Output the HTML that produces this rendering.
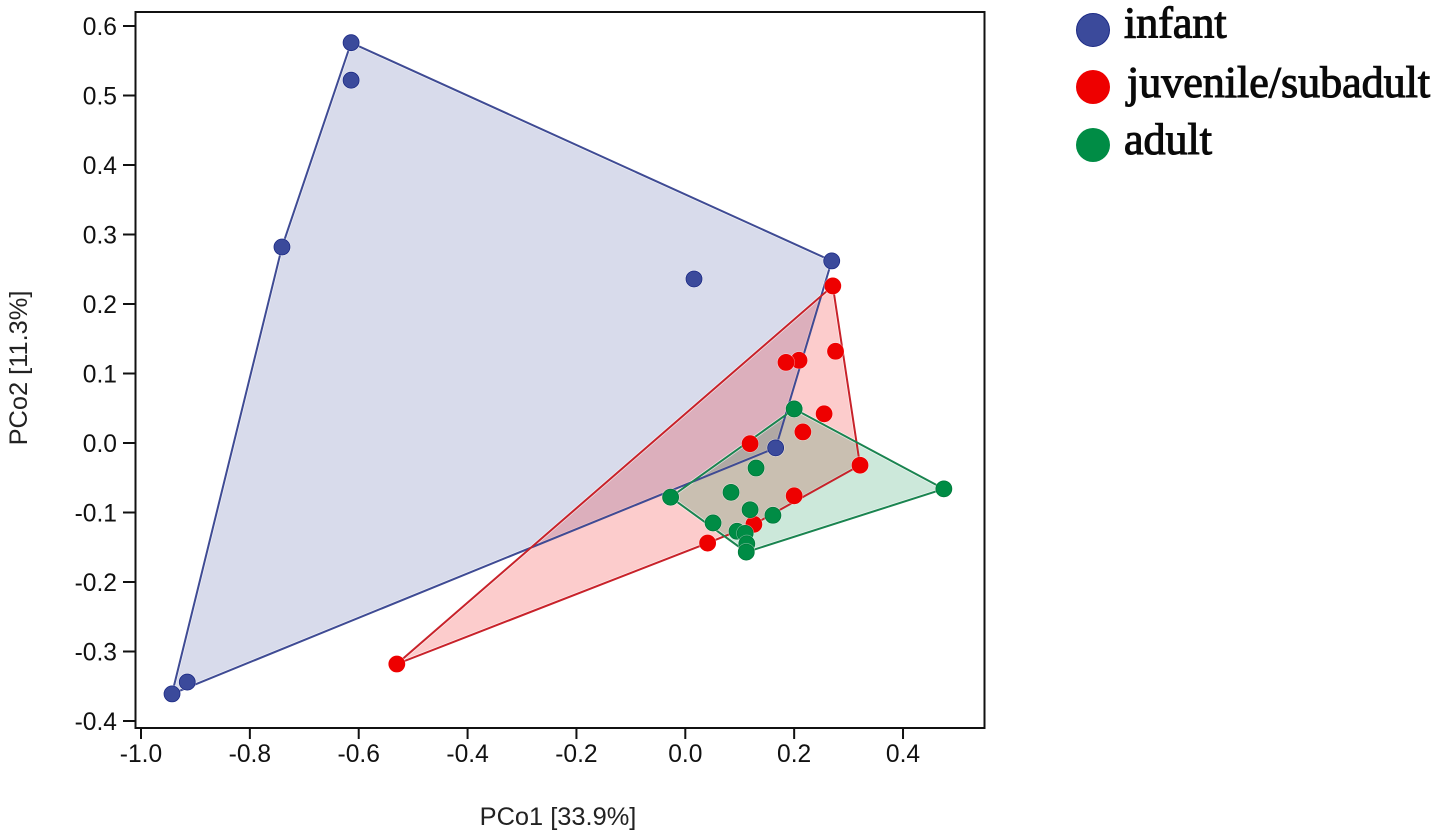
<!DOCTYPE html>
<html lang="en">
<head>
<meta charset="utf-8">
<title>PCoA plot</title>
<style>
html,body{margin:0;padding:0;background:#fff;width:1441px;height:838px;overflow:hidden}
svg{display:block}
.tick{font-family:"Liberation Sans",Arial,sans-serif;font-size:24.6px;fill:#111}
.title{font-family:"Liberation Sans",Arial,sans-serif;font-size:25.4px;fill:#222}
.leg{font-family:"Liberation Serif","Times New Roman",serif;font-size:44px;font-weight:normal;fill:#0a0a0a;stroke:#0a0a0a;stroke-width:1.1px}
</style>
</head>
<body>
<svg id="chart" width="1441" height="838" viewBox="0 0 1441 838" xmlns="http://www.w3.org/2000/svg">
  <g id="hulls"></g>
  <g id="points"></g>
  <rect x="135.5" y="12" width="849" height="716" fill="none" stroke="#111" stroke-width="2"/>
  <g id="xticks"></g>
  <g id="yticks"></g>
  <text class="title" x="558" y="825" text-anchor="middle">PCo1 [33.9%]</text>
  <text class="title" transform="translate(27 368) rotate(-90)" text-anchor="middle">PCo2 [11.3%]</text>
  <g>
    <g>
      <circle cx="1093" cy="30" r="16.5" fill="#3b4a9b" stroke="#1c2a85" stroke-width="1"/>
      <text class="leg" x="1124" y="37.5">infant</text>
    </g>
    <g>
      <circle cx="1093" cy="87" r="17" fill="#ee0000"/>
      <text class="leg" x="1127" y="97">juvenile/subadult</text>
    </g>
    <g>
      <circle cx="1093" cy="145" r="17" fill="#008c45"/>
      <text class="leg" x="1124" y="154">adult</text>
    </g>
  </g>
</svg>
<script>
const xTicks = [-1.0, -0.8, -0.6, -0.4, -0.2, 0.0, 0.2, 0.4];
const yTicks = [-0.4, -0.3, -0.2, -0.1, 0.0, 0.1, 0.2, 0.3, 0.4, 0.5, 0.6];
const infantX = [-0.614, -0.614, -0.741, 0.016, 0.269, 0.166, -0.915, -0.943];
const infantY = [0.576, 0.522, 0.282, 0.236, 0.262, -0.007, -0.344, -0.361];
const juvenileX = [0.271, 0.276, 0.209, 0.185, 0.255, 0.216, 0.119, 0.321, 0.200, 0.126, 0.041, -0.530];
const juvenileY = [0.226, 0.132, 0.119, 0.116, 0.042, 0.016, -0.001, -0.032, -0.076, -0.117, -0.144, -0.318];
const adultX = [0.200, 0.130, 0.084, -0.027, 0.119, 0.161, 0.051, 0.095, 0.110, 0.113, 0.112, 0.475];
const adultY = [0.049, -0.036, -0.071, -0.078, -0.096, -0.104, -0.115, -0.127, -0.130, -0.145, -0.157, -0.066];

const xScale = v => 685.3 + v * 544.3;
const yScale = v => 443 - v * 695;
const SVGNS = 'http://www.w3.org/2000/svg';

function hull(pts) {
  const p = pts.slice().sort((a, b) => a[0] - b[0] || a[1] - b[1]);
  const cross = (o, a, b) => (a[0] - o[0]) * (b[1] - o[1]) - (a[1] - o[1]) * (b[0] - o[0]);
  const lo = [], up = [];
  for (const q of p) {
    while (lo.length > 1 && cross(lo[lo.length - 2], lo[lo.length - 1], q) <= 0) lo.pop();
    lo.push(q);
  }
  for (const q of p.slice().reverse()) {
    while (up.length > 1 && cross(up[up.length - 2], up[up.length - 1], q) <= 0) up.pop();
    up.push(q);
  }
  return lo.slice(0, -1).concat(up.slice(0, -1));
}

function drawHull(name, xs, ys, color) {
  const pts = xs.map((x, i) => [xScale(x), yScale(ys[i])]);
  const h = hull(pts).map(p => p[0].toFixed(1) + ',' + p[1].toFixed(1)).join(' ');
  const halo = document.createElementNS(SVGNS, 'polygon');
  
  
  halo.setAttribute('points', h);
  halo.setAttribute('fill', color);
  halo.setAttribute('fill-opacity', '0.2');
  halo.setAttribute('stroke', '#fff');
  halo.setAttribute('stroke-opacity', '0.6');
  halo.setAttribute('stroke-width', '3.5');
  document.getElementById('hulls').appendChild(halo);
}

function drawHullLine(name, xs, ys, color) {
  const pts = xs.map((x, i) => [xScale(x), yScale(ys[i])]);
  const h = hull(pts).map(p => p[0].toFixed(1) + ',' + p[1].toFixed(1)).join(' ');
  const line = document.createElementNS(SVGNS, 'polygon');
  
  
  line.setAttribute('points', h);
  line.setAttribute('fill', 'none');
  line.setAttribute('stroke', color);
  line.setAttribute('stroke-width', '2');
  document.getElementById('hulls').appendChild(line);
}

function drawPoints(name, xs, ys, fill, edge) {
  const g = document.getElementById('points');
  xs.forEach((x, i) => {
    const halo = document.createElementNS(SVGNS, 'circle');
    
    
    halo.setAttribute('cx', xScale(x));
    halo.setAttribute('cy', yScale(ys[i]));
    halo.setAttribute('r', 9);
    halo.setAttribute('fill', '#fff');
    halo.setAttribute('fill-opacity', '0.45');
    g.appendChild(halo);
    const c = document.createElementNS(SVGNS, 'circle');
    
    
    c.setAttribute('cx', xScale(x));
    c.setAttribute('cy', yScale(ys[i]));
    c.setAttribute('r', 8);
    c.setAttribute('fill', fill);
    c.setAttribute('stroke', edge);
    c.setAttribute('stroke-width', '0.8');
    g.appendChild(c);
  });
}

const INF = '#3b4a9b', JUV = '#ee0000', ADU = '#008c45';
drawHull('infant', infantX, infantY, INF);
drawHull('juvenile', juvenileX, juvenileY, JUV);
drawHull('adult', adultX, adultY, ADU);
drawHullLine('infant', infantX, infantY, '#3f4b94');
drawHullLine('juvenile', juvenileX, juvenileY, '#c8222a');
drawHullLine('adult', adultX, adultY, '#1a8450');
drawPoints('infant', infantX, infantY, INF, '#1c2a85');
drawPoints('juvenile', juvenileX, juvenileY, JUV, JUV);
drawPoints('adult', adultX, adultY, ADU, '#00783a');

xTicks.forEach(v => {
  const g = document.getElementById('xticks');
  const t = document.createElementNS(SVGNS, 'line');
  
  
  t.setAttribute('x1', xScale(v));
  t.setAttribute('x2', xScale(v));
  t.setAttribute('y1', 728);
  t.setAttribute('y2', 739);
  t.setAttribute('stroke', '#111');
  t.setAttribute('stroke-width', '2');
  g.appendChild(t);
  const l = document.createElementNS(SVGNS, 'text');
  
  
  l.setAttribute('class', 'tick');
  l.setAttribute('x', xScale(v));
  l.setAttribute('y', 762);
  l.setAttribute('text-anchor', 'middle');
  l.textContent = v.toFixed(1);
  g.appendChild(l);
});

yTicks.forEach(v => {
  const g = document.getElementById('yticks');
  const t = document.createElementNS(SVGNS, 'line');
  
  
  t.setAttribute('x1', 123);
  t.setAttribute('x2', 135);
  t.setAttribute('y1', yScale(v));
  t.setAttribute('y2', yScale(v));
  t.setAttribute('stroke', '#111');
  t.setAttribute('stroke-width', '2');
  g.appendChild(t);
  const l = document.createElementNS(SVGNS, 'text');
  
  
  l.setAttribute('class', 'tick');
  l.setAttribute('x', 117);
  l.setAttribute('y', yScale(v) + 9);
  l.setAttribute('text-anchor', 'end');
  l.textContent = v.toFixed(1);
  g.appendChild(l);
});
</script>
</body>
</html>
